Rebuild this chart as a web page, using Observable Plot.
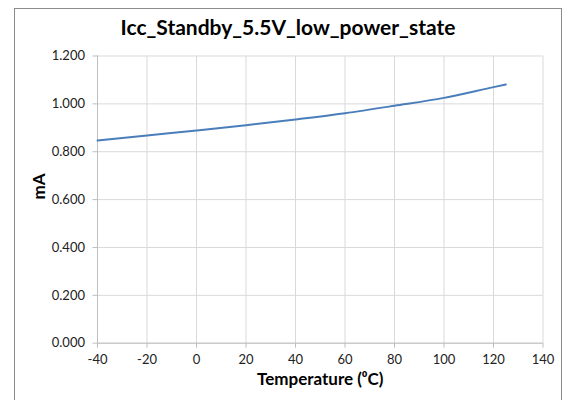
<!DOCTYPE html>
<html>
<head>
<meta charset="utf-8">
<script src="https://cdn.jsdelivr.net/npm/d3@7"></script>
<script src="https://cdn.jsdelivr.net/npm/@observablehq/plot@0.6"></script>
<style>
  html, body { margin: 0; padding: 0; background: #fff; }
  #wrap { position: relative; width: 564px; height: 400px; overflow: hidden; font-family: Lato, "Open Sans", sans-serif; }
  #frame { position: absolute; left: 14px; top: 8px; width: 548px; height: 400px; border: 1px solid #8c8c8c; box-sizing: border-box; pointer-events: none; }
  #title { position: absolute; left: 14px; width: 548px; top: 14px; text-align: center; font: bold 21px Lato, sans-serif; color: #000; }
  #chart { position: absolute; left: 0; top: 0; }
</style>
</head>
<body>
<div id="wrap">
  <div id="chart"></div>
  <div id="frame"></div>
  <div id="title">Icc_Standby_5.5V_low_power_state</div>
</div>
<script>
const temperature = [-40, -20, 0, 20, 40, 60, 80, 100, 120, 125];
const iccMilliamps = [0.847, 0.868, 0.889, 0.911, 0.935, 0.961, 0.992, 1.025, 1.070, 1.081];
const xTicks = [-40, -20, 0, 20, 40, 60, 80, 100, 120, 140];
const yTicks = [0, 0.2, 0.4, 0.6, 0.8, 1.0, 1.2];
const xLabel = "Temperature (\u2070C)";
const yLabel = "mA";

const data = temperature.map((t, i) => ({t, v: iccMilliamps[i]}));

const chart = Plot.plot({
  width: 564,
  height: 400,
  marginLeft: 97,
  marginRight: 21.5,
  marginTop: 55.5,
  marginBottom: 57.3,
  style: {fontFamily: "Lato, sans-serif", fontSize: "13px", color: "#222", background: "transparent"},
  x: {domain: [-40, 140], ticks: xTicks},
  y: {domain: [0, 1.2], ticks: yTicks},
  marks: [
    Plot.gridX(xTicks, {stroke: "#d9d9d9", strokeOpacity: 1}),
    Plot.gridY(yTicks, {stroke: "#d9d9d9", strokeOpacity: 1}),
    Plot.ruleY([0], {stroke: "#bfbfbf"}),
    Plot.ruleX([-40], {stroke: "#bfbfbf"}),
    Plot.axisX(xTicks, {tickSize: 5, tickPadding: 7, stroke: "#bfbfbf", fill: "#222", fontSize: 13, tickFormat: d => String(d), label: null}),
    Plot.axisY(yTicks, {tickSize: 4.5, tickPadding: 8, stroke: "#bfbfbf", fill: "#222", fontSize: 13, tickFormat: d3.format(".3f"), label: null}),
    Plot.line(data, {x: "t", y: "v", stroke: "#4a7ebb", strokeWidth: 2, curve: "monotone-x"}),
    Plot.text([xLabel], {frameAnchor: "bottom", dy: 41.5, fontWeight: "bold", fontSize: 17, fill: "#000"}),
    Plot.text([yLabel], {frameAnchor: "left", dx: -58, rotate: -90, fontWeight: "bold", fontSize: 17, fill: "#000"})
  ]
});
document.getElementById("chart").appendChild(chart);
</script>
</body>
</html>
